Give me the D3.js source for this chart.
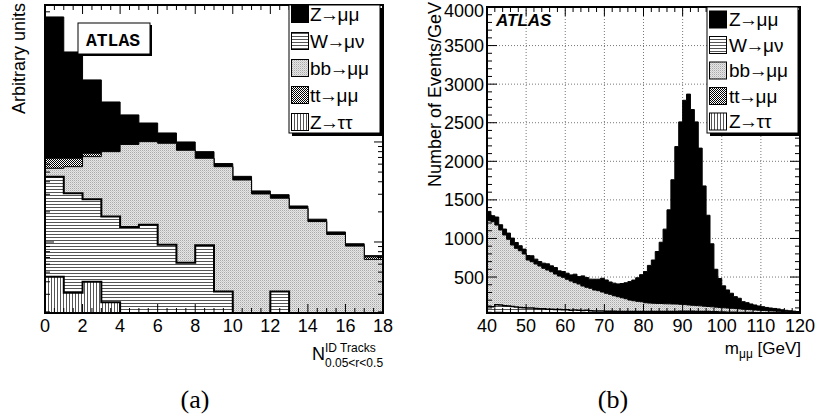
<!DOCTYPE html>
<html lang="en">
<head>
<meta charset="UTF-8">
<title>ATLAS muon samples</title>
<script src="https://d3js.org/d3.v7.min.js"></script>
<style>
  body { margin: 0; background: white; }
  svg { display: block; }
  text { font-family: "Liberation Sans", Arial, sans-serif; fill: black; }
</style>
</head>
<body>
<div id="chart"></div>
<script>
// ---------------- data ----------------
// legend / stack order (bottom of the stack first)
var samples = ["Z→ττ", "W→μν", "bb→μμ", "tt→μμ", "Z→μμ"];
var legendOrder = ["Z→μμ", "W→μν", "bb→μμ", "tt→μμ", "Z→ττ"];

// (a) number of ID tracks, 0.05<r<0.5 (arbitrary units, log y)
var edgesA = [0,1,2,3,4,5,6,7,8,9,10,11,12,13,14,15,16,17,18];
var tauA = [0.45,0.31,0.40,0.25,0,0,0,0,0,0,0,0,0,0,0,0,0,0];
var wA   = [4.05,2.76,2.27,1.55,1.41,1.49,0.94,0.62,0.93,0.32,0,0,0.32,0,0,0,0,0];
var bbA  = [0.96,2.59,4.46,6.2,8.03,8.58,8.76,7.64,5.94,5.34,4.17,3.02,2.42,2.17,1.60,1.19,0.91,0.67];
var ttA  = [1.41,1.21,0.58,0,0,0,0,0,0,0,0,0,0,0,0,0,0,0.04];
var zA   = [170.9,72.5,34.0,17.1,9.2,5.4,2.6,1.74,1.13,0.42,0.36,0.22,0.23,0.12,0.09,0.07,0.05,0.02];
var xTicksA = [0,2,4,6,8,10,12,14,16,18];

// (b) dimuon mass, 1 GeV bins, events/GeV
var edgesB = [40,41,42,43,44,45,46,47,48,49,50,51,52,53,54,55,56,57,58,59,60,61,62,63,64,65,66,67,68,69,
  70,71,72,73,74,75,76,77,78,79,80,81,82,83,84,85,86,87,88,89,90,91,92,93,94,95,96,97,98,99,
  100,101,102,103,104,105,106,107,108,109,110,111,112,113,114,115,116,117,118,119,120];
var tauB = [40,38,42,40,37,35,33,31,30,28, 27,26,25,24,23,22,21,20,20,19, 18,18,17,17,16,16,15,15,15,14,
  14,14,13,13,13,13,13,14,14,15, 15,16,17,18,19,20,21,22,23,24, 24,23,22,21,19,17,15,13,11,10,
  9,8,8,7,7,6,6,6,5,5, 5,5,4,4,4,4,4,3,3,3];
var wB = [80,78,100,98,92,90,84,82,74,75, 72,72,68,65,66,62,63,59,59,56, 57,53,56,52,50,53,49,46,46,47,
  44,44,44,42,42,40,40,38,38,37, 38,36,35,36,34,34,33,33,32,32, 33,33,34,34,35,36,37,38,38,38,
  37,37,36,36,35,35,34,34,33,33, 32,32,31,31,30,30,29,29,28,28];
var bbB = [1110,1101,1032,972,916,864,798,759,737,696, 622,601,576,554,524,507,485,460,434,421,
  396,377,354,341,318,298,290,271,262,245, 231,218,201,190,177,166,149,141,133,128,
  114,111,108,104,104,100,99,96,95,90, 86,82,78,75,73,69,66,63,61,58,
  56,53,51,48,45,41,40,37,35,32, 30,27,26,24,22,19,17,15,14,12];
var ttB = [4,4,4,3,3,3,3,3,3,3, 3,3,2,2,2,2,2,2,2,2, 2,2,2,2,2,2,2,1,1,1,
  1,1,1,1,1,1,1,1,1,1, 1,1,1,1,1,1,1,1,1,1, 1,1,1,1,1,1,1,1,1,1,
  1,1,1,1,1,1,1,1,1,1, 1,1,1,1,1,1,1,1,1,1];
var zB = [117,74,100,65,74,78,87,73,62,60, 55,74,61,56,65,78,74,82,65,73,
  77,78,108,94,129,124,117,139,148,177, 172,159,162,165,183,206,238,267,305,350,
  403,487,560,672,793,966,1217,1609,2040,2364, 2647,2732,2536,2380,2043,1558,1182,816,490,374,
  283,234,194,154,137,98,87,73,64,54, 48,41,37,33,30,22,18,15,12,9];
var xTicksB = [40,50,60,70,80,90,100,110,120];
var yTicksB = [500,1000,1500,2000,2500,3000,3500,4000];

// ---------------- setup ----------------
var svg = d3.select("#chart").append("svg")
    .attr("width", 817)
    .attr("height", 419);
var defs = svg.append("defs");

// fill patterns, one per sample
function pattern(id, w, h, bg, cells, col) {
  var p = defs.append("pattern").attr("id", id)
      .attr("patternUnits", "userSpaceOnUse")
      .attr("width", w).attr("height", h);
  p.append("rect").attr("width", w).attr("height", h).attr("fill", bg);
  cells.forEach(function(c) {
    p.append("rect").attr("x", c[0]).attr("y", c[1])
      .attr("width", c[2]).attr("height", c[3]).attr("fill", c[4] || col);
  });
}
pattern("pW", 4, 3, "white", [[0, 0, 4, 1]], "#555");
pattern("pTau", 3, 4, "white", [[0, 0, 1, 4]], "#555");
pattern("pBB", 2, 2, "#e6e6e6", [[0, 0, 1, 1, "#a9a9a9"], [1, 1, 1, 1, "#cbcbcb"]]);
pattern("pTT", 2, 2, "white", [[0, 0, 1, 1], [1, 1, 1, 1]], "black");

var fills = ["url(#pTau)", "url(#pW)", "url(#pBB)", "url(#pTT)", "black"];
var fillOf = {};
samples.forEach(function(s, i) { fillOf[s] = fills[i]; });

function cumulate(series) {
  var out = [], run = series[0].map(function() { return 0; });
  series.forEach(function(s) {
    run = run.map(function(r, i) { return r + s[i]; });
    out.push(run);
  });
  return out;
}

function stepArea(edges, tops, x, y, ymin) {
  var yb = y.range()[0];
  var s = "M" + x(edges[0]) + "," + yb;
  tops.forEach(function(v, i) {
    var yy = y(Math.max(v, ymin));
    s += "L" + x(edges[i]) + "," + yy + "L" + x(edges[i + 1]) + "," + yy;
  });
  return s + "L" + x(edges[edges.length - 1]) + "," + yb + "Z";
}

function drawStack(g, edges, series, x, y, ymin, widths) {
  var cum = cumulate(series);
  for (var k = cum.length - 1; k >= 0; k--) {
    g.append("path")
      .attr("d", stepArea(edges, cum[k], x, y, ymin))
      .attr("fill", fills[k])
      .attr("stroke", "black")
      .attr("stroke-width", widths[k]);
  }
}

function tickLines(g, list, len, fn) {
  list.forEach(function(v) { g.append("line").attr("stroke", "black").attr("stroke-width", 1).call(fn, v, len); });
}

// legend label: "A→B" with the arrow pulled in tight like ROOT's #rightarrow
function label(t, name) {
  var parts = name.split("→");
  t.append("tspan").text(parts[0]);
  t.append("tspan").attr("dx", -1.5).text("→");
  t.append("tspan").attr("dx", -1.5).text(parts[1]);
}

function legend(g, x0, y0, w, h, textX, rowY) {
  g.append("rect").attr("x", x0 + 3).attr("y", y0 + 3).attr("width", w).attr("height", h).attr("fill", "black");
  g.append("rect").attr("x", x0).attr("y", y0).attr("width", w).attr("height", h)
    .attr("fill", "white").attr("stroke", "black").attr("stroke-width", 1);
  legendOrder.forEach(function(name, i) {
    var cy = rowY[i];
    g.append("rect").attr("x", x0 + 2.5).attr("y", cy - 8.5).attr("width", 17).attr("height", 17)
      .attr("fill", fillOf[name]).attr("stroke", "black").attr("stroke-width", 1);
    g.append("text").attr("x", textX).attr("y", cy + 6.5)
      .style("font-size", "19px").call(label, name);
  });
}

// ---------------- panel (a) ----------------
var A = {l: 45, r: 383, t: 5, b: 313};
var xa = d3.scaleLinear().domain([0, 18]).range([A.l, A.r]);
var ya = d3.scaleLog().domain([0.195, 234]).range([A.b, A.t]).clamp(true);

var ga = svg.append("g");
defs.append("clipPath").attr("id", "clipA").append("rect")
  .attr("x", A.l).attr("y", A.t).attr("width", A.r - A.l).attr("height", A.b - A.t);
var ha = ga.append("g").attr("clip-path", "url(#clipA)");
drawStack(ha, edgesA, [tauA, wA, bbA, ttA, zA], xa, ya, 0.195, [2, 2, 1, 1, 1]);

// ticks (inside the frame, on all four sides)
var ta = ga.append("g");
var minorXA = d3.range(0, 18.01, 0.5).filter(function(v) { return v % 2 !== 0; });
[[xTicksA, 9], [minorXA, 5]].forEach(function(set) {
  tickLines(ta, set[0], set[1], function(s, v, len) { s.attr("x1", xa(v)).attr("x2", xa(v)).attr("y1", A.b).attr("y2", A.b - len); });
  tickLines(ta, set[0], set[1], function(s, v, len) { s.attr("x1", xa(v)).attr("x2", xa(v)).attr("y1", A.t).attr("y2", A.t + len); });
});
var majorYA = [1, 10, 100], minorYA = [];
[0.1, 1, 10, 100].forEach(function(d) {
  for (var k = 2; k <= 9; k++) { if (k * d > 0.195 && k * d < 234) minorYA.push(k * d); }
});
[[majorYA, 9], [minorYA, 5]].forEach(function(set) {
  tickLines(ta, set[0], set[1], function(s, v, len) { s.attr("y1", ya(v)).attr("y2", ya(v)).attr("x1", A.l).attr("x2", A.l + len); });
  tickLines(ta, set[0], set[1], function(s, v, len) { s.attr("y1", ya(v)).attr("y2", ya(v)).attr("x1", A.r).attr("x2", A.r - len); });
});
ga.append("rect").attr("x", A.l).attr("y", A.t).attr("width", A.r - A.l).attr("height", A.b - A.t)
  .attr("fill", "none").attr("stroke", "black").attr("stroke-width", 2);

xTicksA.forEach(function(v) {
  ga.append("text").attr("x", xa(v)).attr("y", 332).attr("text-anchor", "middle")
    .style("font-size", "18px").text(v);
});

// ATLAS box
ga.append("rect").attr("x", 80).attr("y", 25).attr("width", 72).attr("height", 31).attr("fill", "black");
ga.append("rect").attr("x", 78).attr("y", 23).attr("width", 72).attr("height", 31)
  .attr("fill", "white").attr("stroke", "black").attr("stroke-width", 1);
ga.append("text").attr("x", 113).attr("y", 46).attr("text-anchor", "middle")
  .style("font-family", "'Liberation Mono', 'Courier New', monospace")
  .style("font-weight", "bold").style("font-size", "18px").text("ATLAS");

legend(ga, 289, 5, 91, 128, 310, [14, 41, 68, 95, 122]);

ga.append("text").attr("transform", "translate(25,3) rotate(-90)")
  .attr("text-anchor", "end").style("font-size", "18px").text("Arbitrary units");

var xt = ga.append("text").attr("x", 312).attr("y", 360).style("font-size", "18px");
xt.append("tspan").text("N");
xt.append("tspan").attr("dy", -8).style("font-size", "12px").text("ID Tracks");
xt.append("tspan").attr("x", 325).attr("dy", 14.5).style("font-size", "12px").text("0.05<r<0.5");

// ---------------- panel (b) ----------------
var B = {l: 487, r: 800, t: 7, b: 313};
var xb = d3.scaleLinear().domain([40, 120]).range([B.l, B.r]);
var yb = d3.scaleLinear().domain([34, 4000]).range([B.b, B.t]).clamp(true);

var gb = svg.append("g");
// dotted grid under the histograms
xTicksB.slice(1, -1).forEach(function(v) {
  gb.append("line").attr("x1", xb(v)).attr("x2", xb(v)).attr("y1", B.t).attr("y2", B.b)
    .attr("stroke", "#777").attr("stroke-width", 1).attr("stroke-dasharray", "1,2");
});
yTicksB.slice(0, -1).forEach(function(v) {
  gb.append("line").attr("y1", yb(v)).attr("y2", yb(v)).attr("x1", B.l).attr("x2", B.r)
    .attr("stroke", "#777").attr("stroke-width", 1).attr("stroke-dasharray", "1,2");
});

defs.append("clipPath").attr("id", "clipB").append("rect")
  .attr("x", B.l).attr("y", B.t).attr("width", B.r - B.l).attr("height", B.b - B.t);
var hb = gb.append("g").attr("clip-path", "url(#clipB)");
drawStack(hb, edgesB, [tauB, wB, bbB, ttB, zB], xb, yb, 34, [1.5, 1.5, 1, 1, 1]);

var tb = gb.append("g");
var minorXB = d3.range(40, 120.01, 2).filter(function(v) { return v % 10 !== 0; });
[[xTicksB, 9], [minorXB, 5]].forEach(function(set) {
  tickLines(tb, set[0], set[1], function(s, v, len) { s.attr("x1", xb(v)).attr("x2", xb(v)).attr("y1", B.b).attr("y2", B.b - len); });
  tickLines(tb, set[0], set[1], function(s, v, len) { s.attr("x1", xb(v)).attr("x2", xb(v)).attr("y1", B.t).attr("y2", B.t + len); });
});
var minorYB = d3.range(100, 4000, 100).filter(function(v) { return v % 500 !== 0; });
[[yTicksB, 10], [minorYB, 5]].forEach(function(set) {
  tickLines(tb, set[0], set[1], function(s, v, len) { s.attr("y1", yb(v)).attr("y2", yb(v)).attr("x1", B.l).attr("x2", B.l + len); });
  tickLines(tb, set[0], set[1], function(s, v, len) { s.attr("y1", yb(v)).attr("y2", yb(v)).attr("x1", B.r).attr("x2", B.r - len); });
});
gb.append("rect").attr("x", B.l).attr("y", B.t).attr("width", B.r - B.l).attr("height", B.b - B.t)
  .attr("fill", "none").attr("stroke", "black").attr("stroke-width", 2);

xTicksB.forEach(function(v) {
  gb.append("text").attr("x", xb(v)).attr("y", 332).attr("text-anchor", "middle")
    .style("font-size", "18px").text(v);
});
yTicksB.forEach(function(v) {
  // the top label sits a little lower so it stays inside the page
  var dy = v === 4000 ? 10 : 6.5;
  gb.append("text").attr("x", 484).attr("y", yb(v) + dy).attr("text-anchor", "end")
    .style("font-size", "18px").text(v);
});

gb.append("text").attr("x", 496).attr("y", 26)
  .style("font-weight", "bold").style("font-style", "italic").style("font-size", "17px").text("ATLAS");

legend(gb, 707, 7, 91, 126, 729, [19.5, 45, 70.5, 96, 121.5]);

gb.append("text").attr("transform", "translate(441,2) rotate(-90)")
  .attr("text-anchor", "end").style("font-size", "18px").text("Number of Events/GeV");

var mt = gb.append("text").attr("x", 801).attr("y", 354).attr("text-anchor", "end").style("font-size", "17px");
mt.append("tspan").text("m");
mt.append("tspan").attr("dy", 4).style("font-size", "12px").text("μμ");
mt.append("tspan").attr("dy", -4).text(" [GeV]");

// ---------------- captions ----------------
svg.append("text").attr("x", 195).attr("y", 408).attr("text-anchor", "middle")
  .style("font-family", "'Liberation Serif', 'Times New Roman', serif").style("font-size", "26px").text("(a)");
svg.append("text").attr("x", 613).attr("y", 408).attr("text-anchor", "middle")
  .style("font-family", "'Liberation Serif', 'Times New Roman', serif").style("font-size", "26px").text("(b)");
</script>
</body>
</html>
